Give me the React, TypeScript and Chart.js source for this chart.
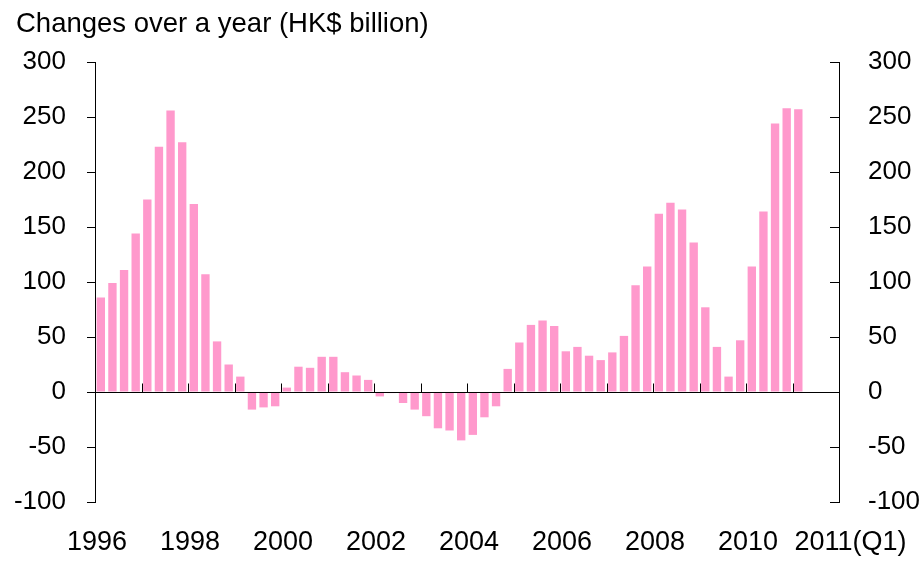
import React, { useEffect, useRef } from "react";
import { Chart, registerables } from "chart.js";

Chart.register(...registerables);

const titleText = "Changes over a year (HK$ billion)";

const years: number[] = [1996, 1997, 1998, 1999, 2000, 2001, 2002, 2003, 2004, 2005, 2006, 2007, 2008, 2009, 2010, 2011];
const quarters: string[] = ["Q1", "Q2", "Q3", "Q4"];
const categories: string[] = years.flatMap((y) => quarters.map((q) => `${y} ${q}`));

// Year-on-year change, HK$ billion, 1996 Q1 .. 2011 Q1
const values: number[] = [
  86, 99, 111, 144, 175, 223, 256, 227, 171, 107, 46, 25, 14,
  -16, -14, -13,
  4, 23, 22, 32, 32, 18, 15, 11,
  -4, -1, -10, -16, -22, -33, -35, -44, -39, -23, -13,
  21, 45, 61, 65, 60, 37, 41, 33, 29, 36,
  51, 97, 114, 162, 172, 166, 136, 77, 41, 14, 47, 114, 164, 244, 258, 257,
];

const xTickLabels: string[] = ["1996", "1998", "2000", "2002", "2004", "2006", "2008", "2010", "2011(Q1)"];
const xTickCategories: string[] = ["1996 Q1", "1998 Q1", "2000 Q1", "2002 Q1", "2004 Q1", "2006 Q1", "2008 Q1", "2010 Q1", "2011 Q1"];
const yearStartCategories: string[] = years.slice(1).map((y) => `${y} Q1`);

const yMin = -100;
const yMax = 300;
const yStep = 50;

const FONT = '"Liberation Sans", Arial, sans-serif';

const customPlugin = {
  id: "customDecor",
  afterDatasetsDraw(chart: any) {
    const { ctx, chartArea, scales } = chart;
    const x = scales.x;
    const y = scales.y;
    const catW = x.width / categories.length;
    const y0 = Math.round(y.getPixelForValue(0)) + 0.5;
    ctx.save();
    ctx.strokeStyle = "#000";
    ctx.lineWidth = 1;
    ctx.beginPath();
    ctx.moveTo(chartArea.left, y0);
    ctx.lineTo(chartArea.right, y0);
    yearStartCategories.forEach((c) => {
      const idx = categories.indexOf(c);
      if (idx < 0) return;
      const px = Math.round(x.getPixelForValue(idx) - catW / 2) + 0.5;
      ctx.moveTo(px, y0);
      ctx.lineTo(px, y0 - 9);
    });
    ctx.stroke();
    ctx.restore();
  },
  afterDraw(chart: any) {
    const { ctx, chartArea, scales } = chart;
    const x = scales.x;
    const y2 = scales.y2;
    const catW = x.width / categories.length;
    ctx.save();
    ctx.strokeStyle = "#000";
    ctx.lineWidth = 1;
    ctx.beginPath();
    for (let v = yMin; v <= yMax; v += yStep) {
      const py = Math.round(y2.getPixelForValue(v)) + 0.5;
      ctx.moveTo(chartArea.right - 9, py);
      ctx.lineTo(chartArea.right, py);
    }
    ctx.stroke();
    ctx.fillStyle = "#000";
    ctx.font = `27.5px ${FONT}`;
    ctx.textAlign = "left";
    ctx.textBaseline = "alphabetic";
    ctx.fillText(titleText, 16, 32);
    ctx.font = `27px ${FONT}`;
    ctx.textBaseline = "middle";
    xTickLabels.forEach((lab, i) => {
      const idx = categories.indexOf(xTickCategories[i]);
      const px = x.getPixelForValue(idx) - catW / 2;
      if (i === xTickLabels.length - 1) {
        ctx.textAlign = "left";
        ctx.fillText(lab, px + 2, 543);
      } else {
        ctx.textAlign = "center";
        ctx.fillText(lab, px + 2, 543);
      }
    });
    ctx.restore();
  },
};

export default function App() {
  const canvasRef = useRef<HTMLCanvasElement | null>(null);

  useEffect(() => {
    if (!canvasRef.current) return;
    const chart = new Chart(canvasRef.current, {
      type: "bar",
      data: {
        labels: categories,
        datasets: [
          {
            data: values,
            backgroundColor: "#FF99CC",
            borderWidth: 0,
            barPercentage: 0.72,
            categoryPercentage: 1.0,
            yAxisID: "y",
          },
        ],
      },
      options: {
        animation: false,
        responsive: true,
        maintainAspectRatio: false,
        layout: { padding: { left: 0, right: 0, top: 62, bottom: 60 } },
        plugins: {
          legend: { display: false },
          tooltip: { enabled: false },
          title: { display: false },
        },
        scales: {
          x: {
            type: "category",
            offset: true,
            display: false,
          },
          y: {
            position: "left",
            min: yMin,
            max: yMax,
            ticks: {
              stepSize: yStep,
              color: "#000",
              font: { family: FONT, size: 26 },
              padding: 21,
            },
            grid: {
              drawOnChartArea: false,
              drawTicks: true,
              tickLength: 8,
              color: "#000",
            },
            border: { display: true, color: "#000", width: 1 },
            afterFit: (s: any) => {
              s.width = 95;
            },
          },
          y2: {
            position: "right",
            min: yMin,
            max: yMax,
            ticks: {
              stepSize: yStep,
              color: "#000",
              font: { family: FONT, size: 26 },
              padding: 21,
            },
            grid: { display: false },
            border: { display: true, color: "#000", width: 1 },
            afterFit: (s: any) => {
              s.width = 80;
            },
          },
        },
      },
      plugins: [customPlugin],
    });
    return () => chart.destroy();
  }, []);

  return (
    <div style={{ position: "absolute", left: 0, top: 0, width: 919, height: 562, background: "#fff" }}>
      <canvas ref={canvasRef} />
    </div>
  );
}
